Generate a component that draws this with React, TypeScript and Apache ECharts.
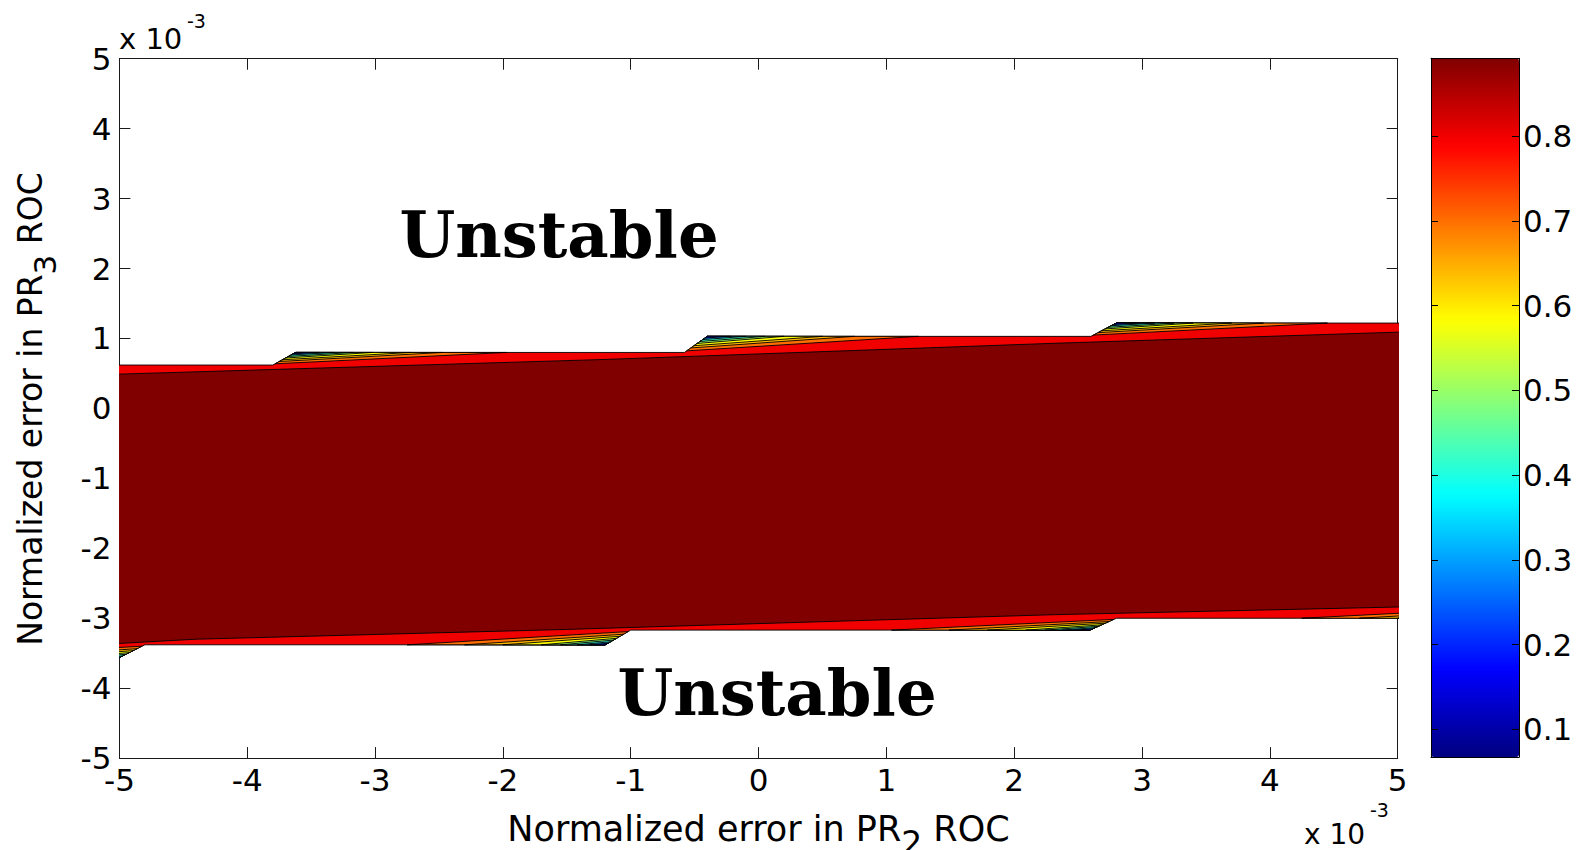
import React, { useEffect, useRef } from "react";
import * as echarts from "echarts";

// ---------- axis ticks ----------
const xTickValues = [-5, -4, -3, -2, -1, 0, 1, 2, 3, 4, 5];
const yTickValues = [-5, -4, -3, -2, -1, 0, 1, 2, 3, 4, 5];
const colorbarTicks = [0.1, 0.2, 0.3, 0.4, 0.5, 0.6, 0.7, 0.8];
const colorbarMin = 0.0673;
const colorbarMax = 0.8917;
const jetColors = ["#000080", "#0000ff", "#0080ff", "#00ffff", "#80ff80", "#ffff00", "#ff8000", "#ff0000", "#800000"];

// ---------- contour geometry (data units, x 10^-3) ----------
// white (unstable) boundary of the stable band, top and bottom
const topBoundary = [[-5.3, 0.62], [-3.8, 0.62], [-3.62, 0.8], [-0.58, 0.8], [-0.4, 1.03], [2.6, 1.03], [2.8, 1.22], [5.3, 1.22]];
const bottomBoundary = [[-5.3, -3.58], [-5.02, -3.58], [-4.8, -3.38], [-1.2, -3.38], [-1.0, -3.17], [2.59, -3.17], [2.8, -3.0], [5.3, -3.0]];
// edges of the dark-red core (highest contour level)
const coreTop = [[-5.3, 0.47], [-5, 0.49], [-1.2, 0.7], [2.3, 0.93], [5, 1.09], [5.3, 1.11]];
const coreBottom = [[-5.3, -3.38], [-5, -3.36], [-4.4, -3.3], [-1.5, -3.16], [2.3, -2.95], [5, -2.84], [5.3, -2.83]];
// steps of the boundary: [lower point, upper point]
const topSteps = [
  [[-3.8, 0.62], [-3.62, 0.8]],
  [[-0.58, 0.8], [-0.4, 1.03]],
  [[2.6, 1.03], [2.8, 1.22]],
];
const bottomSteps = [
  [[-5.02, -3.58], [-4.8, -3.38]],
  [[-1.2, -3.38], [-1.0, -3.17]],
  [[2.59, -3.17], [2.8, -3.0]],
  [[5.8, -3.0], [6.0, -2.82]],
];
// contour levels of the thin wedges next to each step (painted in this order)
const wedgeLevels = [0.7, 0.64, 0.58, 0.5, 0.42, 0.3, 0.17];
const topSlopeFrac = [0.1, 0.28, 0.42, 0.56, 0.68, 0.8, 0.9];
const topEndOffset = [1.65, 1.15, 0.9, 0.6, 0.45, 0.3, 0.18];
const bottomSlopeFrac = [0.9, 0.72, 0.58, 0.44, 0.32, 0.2, 0.1];
const bottomEndOffset = [1.55, 1.1, 0.8, 0.5, 0.35, 0.22, 0.12];
const stableLevel = 0.8;
const coreLevel = 0.8917;

const xTitle = "Normalized error in PR{sub|2} ROC";
const yTitle = "Normalized error in PR{sub|3} ROC";

type Band = { level: number; pts: number[][] };

function buildBands(): Band[] {
  const bands: Band[] = [];
  bands.push({ level: stableLevel, pts: [...topBoundary, ...bottomBoundary.slice().reverse()] });
  bands.push({ level: coreLevel, pts: [...coreTop, ...coreBottom.slice().reverse()] });
  topSteps.forEach(([a, b]) => {
    wedgeLevels.forEach((lv, i) => {
      const f = topSlopeFrac[i];
      const s = [a[0] + (b[0] - a[0]) * f, a[1] + (b[1] - a[1]) * f];
      const e = [b[0] + topEndOffset[i], b[1]];
      bands.push({ level: lv, pts: [s, b, e] });
    });
  });
  bottomSteps.forEach(([a, b]) => {
    wedgeLevels.forEach((lv, i) => {
      const f = bottomSlopeFrac[i];
      const s = [a[0] + (b[0] - a[0]) * f, a[1] + (b[1] - a[1]) * f];
      const e = [a[0] - bottomEndOffset[i], a[1]];
      bands.push({ level: lv, pts: [s, a, e] });
    });
  });
  return bands;
}

const SANS = "DejaVu Sans";
const AXIS_COLOR = "#1a1a1a";

export default function App() {
  const ref = useRef<HTMLDivElement>(null);

  useEffect(() => {
    if (!ref.current) return;
    const chart = echarts.init(ref.current, undefined, { renderer: "svg" });
    const bands = buildBands();

    const plotLeft = 119.4;
    const plotTop = 58.7;
    const plotW = 1278.3;
    const plotH = 699.4;

    const mainAxisCommon = {
      type: "value" as const,
      min: -5,
      max: 5,
      interval: 1,
      splitLine: { show: false },
      axisLine: { show: true, onZero: false, lineStyle: { color: AXIS_COLOR, width: 1 } },
      axisTick: { show: true, inside: true, length: 11, lineStyle: { color: AXIS_COLOR, width: 1 } },
    };
    const labelStyle = { fontFamily: SANS, fontSize: 31, color: "#000" };
    const titleText = (text: string, size: number, drop: number) => ({
      text,
      font: `${size}px "${SANS}"`,
      fontSize: size,
      fontFamily: SANS,
      fill: "#000",
      align: "center",
      verticalAlign: "middle",
      rich: {
        sub: {
          font: `${size - 2}px "${SANS}"`,
          fontSize: size - 2,
          fontFamily: SANS,
          fill: "#000",
          padding: [drop * 2, 0, 0, 0],
        },
      },
    });

    const option: any = {
      animation: false,
      backgroundColor: "#fff",
      grid: [
        { left: plotLeft, top: plotTop, width: plotW, height: plotH, show: false, outerBoundsMode: "none", containLabel: false },
        { left: 1431, top: 58.3, width: 88, height: 698.7, show: false, outerBoundsMode: "none", containLabel: false },
      ],
      xAxis: [
        {
          ...mainAxisCommon,
          gridIndex: 0,
          position: "bottom",
          axisLabel: { ...labelStyle, margin: 6, customValues: xTickValues },
        },
        { ...mainAxisCommon, gridIndex: 0, position: "top", axisLabel: { show: false } },
        {
          type: "value",
          gridIndex: 1,
          min: 0,
          max: 1,
          position: "bottom",
          axisLine: { show: true, onZero: false, lineStyle: { color: "#000" } },
          axisTick: { show: false },
          axisLabel: { show: false },
          splitLine: { show: false },
          z: 10,
        },
        {
          type: "value",
          gridIndex: 1,
          min: 0,
          max: 1,
          position: "top",
          axisLine: { show: true, onZero: false, lineStyle: { color: "#000" } },
          axisTick: { show: false },
          axisLabel: { show: false },
          splitLine: { show: false },
          z: 10,
        },
      ],
      yAxis: [
        {
          ...mainAxisCommon,
          gridIndex: 0,
          position: "left",
          axisLabel: { ...labelStyle, margin: 8, customValues: yTickValues },
        },
        { ...mainAxisCommon, gridIndex: 0, position: "right", axisLabel: { show: false } },
        {
          type: "value",
          gridIndex: 1,
          min: colorbarMin,
          max: colorbarMax,
          position: "left",
          axisLine: { show: true, onZero: false, lineStyle: { color: "#000" } },
          axisTick: { show: true, inside: true, length: 7, customValues: colorbarTicks, lineStyle: { color: "#000" } },
          axisLabel: { show: false },
          splitLine: { show: false },
          z: 10,
        },
        {
          type: "value",
          gridIndex: 1,
          min: colorbarMin,
          max: colorbarMax,
          position: "right",
          axisLine: { show: true, onZero: false, lineStyle: { color: "#000" } },
          axisTick: { show: true, inside: true, length: 7, customValues: colorbarTicks, lineStyle: { color: "#000" } },
          axisLabel: {
            show: true,
            customValues: colorbarTicks,
            formatter: (v: number) => v.toFixed(1),
            fontFamily: SANS,
            fontSize: 31,
            color: "#000",
            margin: 4,
          },
          splitLine: { show: false },
          z: 10,
        },
      ],
      visualMap: {
        type: "continuous",
        min: colorbarMin,
        max: colorbarMax,
        dimension: 0,
        seriesIndex: 0,
        left: 1431,
        top: 58.3,
        itemWidth: 88,
        itemHeight: 698.7,
        padding: 0,
        calculable: false,
        hoverLink: false,
        orient: "vertical",
        inRange: { color: jetColors },
      },
      series: [
        {
          type: "custom",
          xAxisIndex: 0,
          yAxisIndex: 0,
          clip: true,
          silent: true,
          data: bands.map((b) => [b.level, 0]),
          renderItem: (params: any, api: any) => {
            const band = bands[params.dataIndex];
            const points = band.pts.map((p) => api.coord(p));
            return {
              type: "polygon",
              shape: { points },
              style: { fill: api.visual("color"), stroke: "#000", lineWidth: 0.9 },
            };
          },
        },
      ],
      graphic: [
        {
          type: "text",
          x: 758.5,
          y: 829,
          style: titleText(xTitle, 35, 14),
          z: 20,
        },
        {
          type: "text",
          x: 30.5,
          y: 409,
          rotation: Math.PI / 2,
          style: titleText(yTitle, 33, 14),
          z: 20,
        },
        {
          type: "text",
          x: 559,
          y: 234.5,
          style: {
            text: "Unstable",
            font: 'bold 64px "DejaVu Serif"',
            fill: "#000",
            align: "center",
            verticalAlign: "middle",
          },
          z: 20,
        },
        {
          type: "text",
          x: 777,
          y: 692,
          style: {
            text: "Unstable",
            font: 'bold 64px "DejaVu Serif"',
            fill: "#000",
            align: "center",
            verticalAlign: "middle",
          },
          z: 20,
        },
        {
          type: "text",
          x: 119,
          y: 39,
          style: { text: "x 10", font: '29px "DejaVu Sans"', fill: "#000", align: "left", verticalAlign: "middle" },
        },
        {
          type: "text",
          x: 187,
          y: 21,
          style: { text: "-3", font: '19px "DejaVu Sans"', fill: "#000", align: "left", verticalAlign: "middle" },
        },
        {
          type: "text",
          x: 1304,
          y: 834,
          style: { text: "x 10", font: '28px "DejaVu Sans"', fill: "#000", align: "left", verticalAlign: "middle" },
        },
        {
          type: "text",
          x: 1370,
          y: 810,
          style: { text: "-3", font: '19px "DejaVu Sans"', fill: "#000", align: "left", verticalAlign: "middle" },
        },
      ],
    };

    chart.setOption(option);
    return () => chart.dispose();
  }, []);

  return (
    <div
      ref={ref}
      style={{ position: "fixed", left: 0, top: 0, width: 1587, height: 850, background: "#fff" }}
    />
  );
}
